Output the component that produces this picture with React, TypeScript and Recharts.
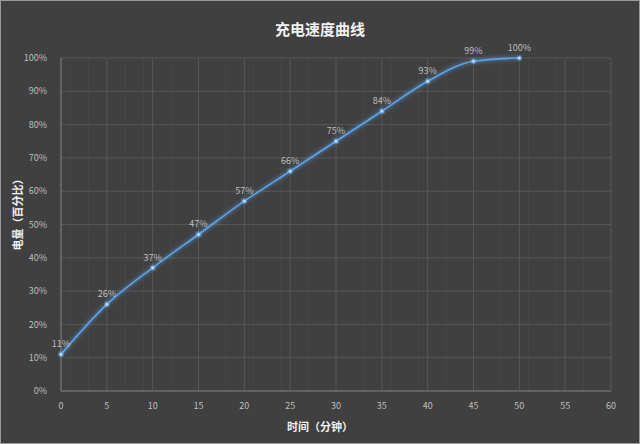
import React from "react";
import { LineChart, Line, XAxis, YAxis, CartesianGrid, LabelList } from "recharts";

const minutes = [0, 5, 10, 15, 20, 25, 30, 35, 40, 45, 50];
const battery = [11, 26, 37, 47, 57, 66, 75, 84, 93, 99, 100];
const xTicks = [0, 5, 10, 15, 20, 25, 30, 35, 40, 45, 50, 55, 60];
const xMinorTicks = [0,1,2,3,4,5,6,7,8,9,10,11,12,13,14,15,16,17,18,19,20,21,22,23,24,25,26,27,28,29,30,31,32,33,34,35,36,37,38,39,40,41,42,43,44,45,46,47,48,49,50,51,52,53,54,55,56,57,58,59,60];
const yTicks = [0, 10, 20, 30, 40, 50, 60, 70, 80, 90, 100];

const data = minutes.map((m, i) => ({ m, v: battery[i] }));

const font = "'Microsoft YaHei', 'Noto Sans CJK SC', 'Noto Sans', sans-serif";

export default function App() {
  return (
    <div style={{ position: "absolute", left: 0, top: 0, width: 640, height: 444, background: "#404040", fontFamily: font }}>
      <div style={{ position: "absolute", left: 0, top: 0, width: 638, height: 442, border: "1px solid #9a9a9a" }} />
      <div style={{ position: "absolute", left: 0, top: 18, width: 640, textAlign: "center", color: "#f2f2f2", fontSize: 15, fontWeight: "bold" }}>
        充电速度曲线
      </div>
      <div style={{ position: "absolute", left: 0, top: 418, width: 640, textAlign: "center", color: "#f2f2f2", fontSize: 11, fontWeight: "bold" }}>
        时间（分钟）
      </div>
      <div style={{ position: "absolute", left: 17, top: 212, width: 0, height: 0 }}>
        <div style={{ position: "absolute", left: -60, top: -8, width: 120, textAlign: "center", transform: "rotate(-90deg)", color: "#f2f2f2", fontSize: 11, fontWeight: "bold", whiteSpace: "nowrap" }}>
          电量（百分比）
        </div>
      </div>
      <div style={{ position: "absolute", left: 0, top: 0 }}>
        <LineChart width={640} height={444} data={data} margin={{ top: 58, right: 29, bottom: 23, left: 0 }}>
          <defs>
            <filter id="glow" x="-20%" y="-20%" width="140%" height="140%">
              <feGaussianBlur stdDeviation="2" result="blur" />
              <feMerge>
                <feMergeNode in="blur" />
                <feMergeNode in="SourceGraphic" />
              </feMerge>
            </filter>
          </defs>
          <XAxis xAxisId="minor" dataKey="m" type="number" domain={[0, 60]} ticks={xMinorTicks} hide />
          <CartesianGrid xAxisId="minor" horizontal={false} stroke="#464646" strokeWidth={1} />
          <CartesianGrid vertical={true} stroke="#575757" strokeWidth={1} />
          <XAxis
            dataKey="m"
            type="number"
            domain={[0, 60]}
            ticks={xTicks}
            height={30}
            axisLine={{ stroke: "#7a7a7a" }}
            tickLine={false}
            tick={{ fill: "#bfbfbf", fontSize: 9, fontFamily: font }}
            tickMargin={6}
            interval={0}
          />
          <YAxis
            type="number"
            domain={[0, 100]}
            ticks={yTicks}
            width={61}
            axisLine={{ stroke: "#7a7a7a" }}
            tickLine={false}
            tick={{ fill: "#bfbfbf", fontSize: 9, fontFamily: font }}
            tickFormatter={(v) => `${v}%`}
            tickMargin={8}
            interval={0}
          />
          <Line
            type="monotone"
            dataKey="v"
            stroke="#5ba3ea"
            strokeWidth={1.6}
            filter="url(#glow)"
            dot={{ r: 1.8, fill: "#cfe6ff", stroke: "#5ba3ea", strokeWidth: 1 }}
            activeDot={false}
            isAnimationActive={false}
          >
            <LabelList dataKey="v" position="top" offset={7} formatter={(v) => `${v}%`} fill="#bfbfbf" fontSize={9} fontFamily={font} />
          </Line>
        </LineChart>
      </div>
    </div>
  );
}
